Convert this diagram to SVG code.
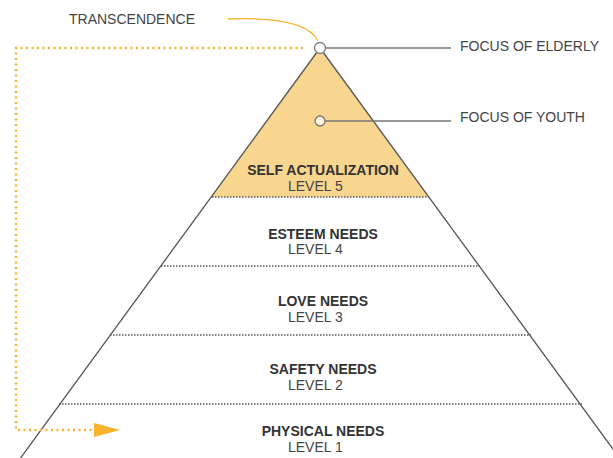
<svg xmlns="http://www.w3.org/2000/svg" width="613" height="458" viewBox="0 0 613 458">
  <style>
    .title { font-family: "Liberation Sans", Arial, sans-serif; font-size: 14px; font-weight: bold; fill: #333; text-anchor: middle; }
    .level { font-family: "Liberation Sans", Arial, sans-serif; font-size: 14px; fill: #444; }
    .label { font-family: "Liberation Sans", Arial, sans-serif; font-size: 14px; fill: #444; }
    .edge { stroke: #555; stroke-width: 1.3; fill: none; }
    .divider { stroke: #555; stroke-width: 1.5; stroke-dasharray: 1.5 1.5; fill: none; }
    .leader { stroke: #777; stroke-width: 1.3; fill: none; }
    .flow { stroke: #F7B32B; stroke-width: 2.5; stroke-dasharray: 2 3.5; fill: none; }
  </style>
  <rect width="613" height="458" fill="#fff"/>

  <!-- filled top tier -->
  <polygon points="320,48 211.2,197 428.8,197" fill="#F9D68F"/>

  <!-- pyramid outline -->
  <g id="pyramid">
    <line class="edge" x1="320" y1="48" x2="14" y2="467"/>
    <line class="edge" x1="320" y1="48" x2="626" y2="467"/>
    <line class="divider" x1="212" y1="197" x2="429" y2="197"/>
    <line class="divider" x1="161" y1="266" x2="480" y2="266"/>
    <line class="divider" x1="110" y1="335" x2="531" y2="335"/>
    <line class="divider" x1="59" y1="404" x2="582" y2="404"/>
  </g>

  <g id="connectors">
    <path class="flow" d="M303,48 H16 V430 H94"/>
    <polygon points="94,423 120,430 94,437" fill="#F7B32B"/>
    <path d="M228,19 C280,17 310,24 318,41" stroke="#F7B32B" stroke-width="1.3" fill="none"/>
    <line class="leader" x1="325" y1="48" x2="451" y2="48"/>
    <line class="leader" x1="325" y1="121" x2="451" y2="121"/>
  </g>

  <g id="transcendence">
    <text class="label" x="69" y="24">TRANSCENDENCE</text>
  </g>

  <g id="focus-elderly">
    <circle cx="320" cy="48" r="5.5" fill="#fff" stroke="#777" stroke-width="1.3"/>
    <text class="label" x="460" y="50.5">FOCUS OF ELDERLY</text>
  </g>

  <g id="focus-youth">
    <circle cx="320" cy="121" r="5" fill="#FDF3DC" stroke="#777" stroke-width="1.3"/>
    <text class="label" x="460" y="121.5">FOCUS OF YOUTH</text>
  </g>

  <g id="level-5">
    <text class="title" x="323" y="175">SELF ACTUALIZATION</text>
    <text class="level" x="288" y="190.5">LEVEL 5</text>
  </g>
  <g id="level-4">
    <text class="title" x="323" y="238.5">ESTEEM NEEDS</text>
    <text class="level" x="288" y="254">LEVEL 4</text>
  </g>
  <g id="level-3">
    <text class="title" x="323" y="305.5">LOVE NEEDS</text>
    <text class="level" x="288" y="321.5">LEVEL 3</text>
  </g>
  <g id="level-2">
    <text class="title" x="323" y="373.5">SAFETY NEEDS</text>
    <text class="level" x="288" y="389.5">LEVEL 2</text>
  </g>
  <g id="level-1">
    <text class="title" x="323" y="436">PHYSICAL NEEDS</text>
    <text class="level" x="288" y="452">LEVEL 1</text>
  </g>
</svg>
